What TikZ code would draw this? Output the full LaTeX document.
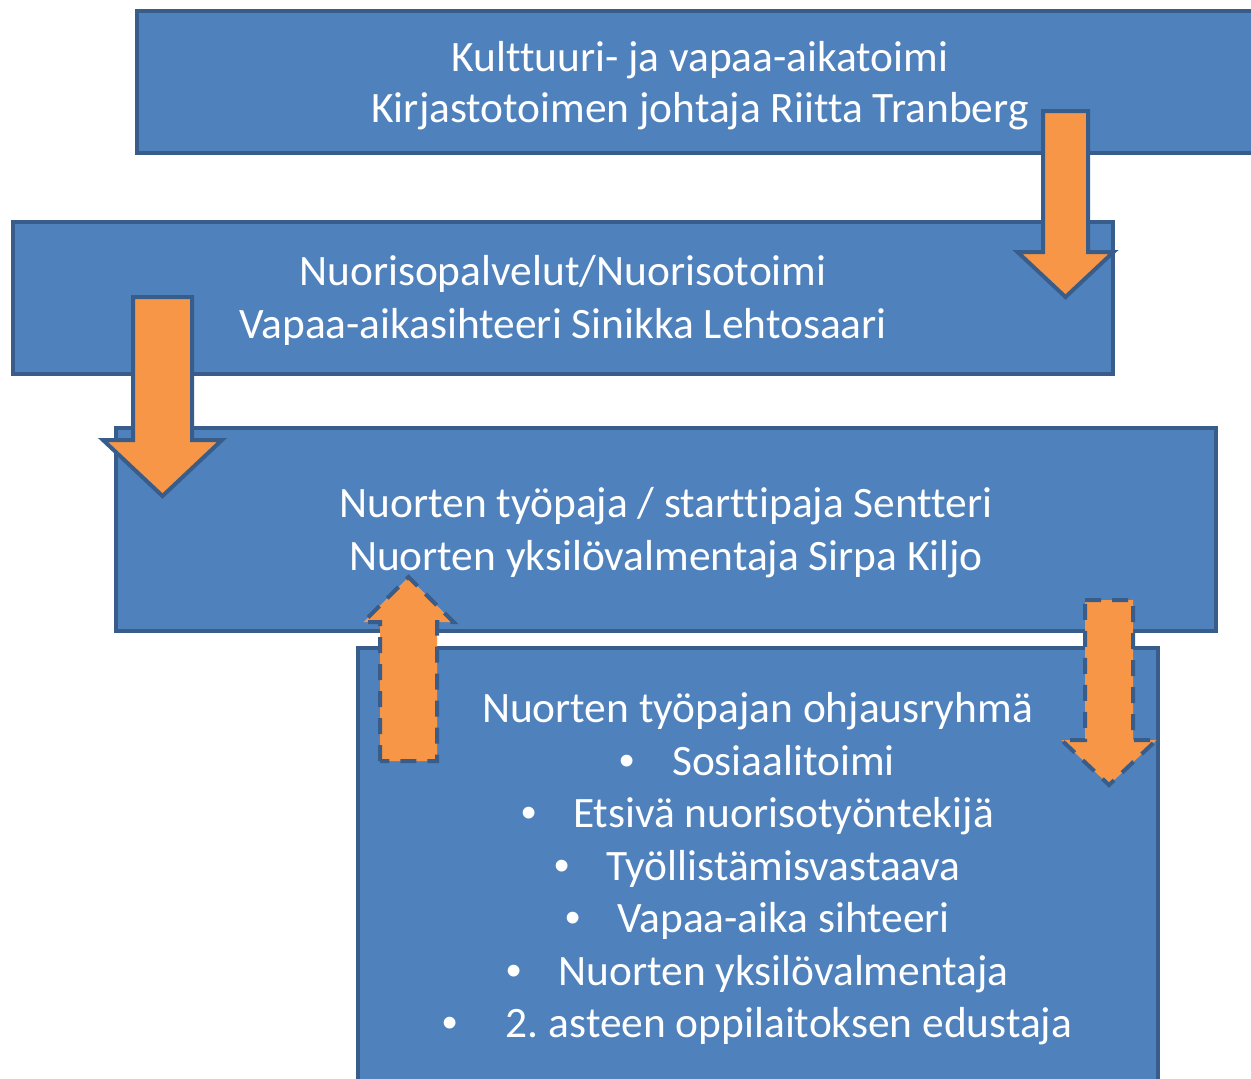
\documentclass[tikz,border=0pt]{standalone}
\usepackage{fontspec}
\setmainfont{Carlito}[Ligatures={NoCommon}]
\newfontfamily\bulletfont{Liberation Sans}
\newcommand{\blt}{{\bulletfont •}}
\definecolor{boxfill}{HTML}{4F81BD}
\definecolor{boxline}{HTML}{385D8A}
\definecolor{arrowfill}{HTML}{F79646}
\tikzset{
  box/.style={draw=boxline, fill=boxfill, line width=4pt, inner sep=0pt, rectangle},
  blockarrow/.style={draw=boxline, fill=arrowfill, line width=4pt, line join=miter},
  dashedarrow/.style={blockarrow, dash pattern=on 16pt off 11pt},
  txt/.style={text=white, inner sep=0pt, anchor=base, font=\fontsize{43.4}{52.5}\selectfont\frenchspacing},
}
\begin{document}
\begin{tikzpicture}[x=1pt, y=-1pt]
\useasboundingbox (0,0) rectangle (1251,1079);
\clip (0,0) rectangle (1251,1079);
% box 1
\node[box, minimum width=1126pt, minimum height=142pt] (b1) at (700,82) {};
% box 2
\node[box, minimum width=1100pt, minimum height=152pt] (b2) at (563,298) {};
% arrow 1 (box1 -> box2)
\draw[blockarrow] (1043,111) -- (1088,111) -- (1088,252) -- (1113.5,252) -- (1065.5,297)
  -- (1017.5,252) -- (1043,252) -- cycle;
% box 3
\node[box, minimum width=1100pt, minimum height=203pt] (b3) at (666,529.5) {};
% arrow 2 (box2 -> box3)
\draw[blockarrow] (133,297) -- (192,297) -- (192,440) -- (222,440) -- (162.5,496)
  -- (103,440) -- (133,440) -- cycle;
% box 4
\node[box, minimum width=800pt, minimum height=552pt] (b4) at (758,924) {};
% arrow 3 (box4 -> box3, dashed, up)
\draw[dashedarrow] (380,761) -- (380,622) -- (363.5,622) -- (408.5,577) -- (453.5,622)
  -- (437,622) -- (437,761) -- cycle;
% arrow 4 (box3 -> box4, dashed, down)
\draw[dashedarrow] (1085,600) -- (1133,600) -- (1133,740) -- (1156.5,740) -- (1109,785)
  -- (1061.5,740) -- (1085,740) -- cycle;
% texts
\node[txt] (t1a) at (700,71) {Kulttuuri- ja vapaa-aikatoimi};
\node[txt] (t1b) at (700,122.5) {Kirjastotoimen johtaja Riitta Tranberg};
\node[txt] (t2a) at (563,285.5) {Nuorisopalvelut/Nuorisotoimi};
\node[txt] (t2b) at (563,338) {Vapaa-aikasihteeri Sinikka Lehtosaari};
\node[txt] (t3a) at (666,517.5) {Nuorten työpaja / starttipaja Sentteri};
\node[txt] (t3b) at (666,570) {Nuorten yksilövalmentaja Sirpa Kiljo};
\node[txt] (t4a) at (757.5,722.5) {Nuorten työpajan ohjausryhmä};
\node[txt] (t4b) at (757.5,775) {\blt\hspace{37pt}Sosiaalitoimi};
\node[txt] (t4c) at (757.5,827.5) {\blt\hspace{37pt}Etsivä nuorisotyöntekijä};
\node[txt] (t4d) at (757.5,880) {\blt\hspace{37pt}Työllistämisvastaava};
\node[txt] (t4e) at (757.5,932.5) {\blt\hspace{37pt}Vapaa-aika sihteeri};
\node[txt] (t4f) at (757.5,985) {\blt\hspace{37pt}Nuorten yksilövalmentaja};
\node[txt] (t4g) at (757.5,1037.5) {\blt\hspace{48pt}2. asteen oppilaitoksen edustaja};
\end{tikzpicture}
\end{document}
